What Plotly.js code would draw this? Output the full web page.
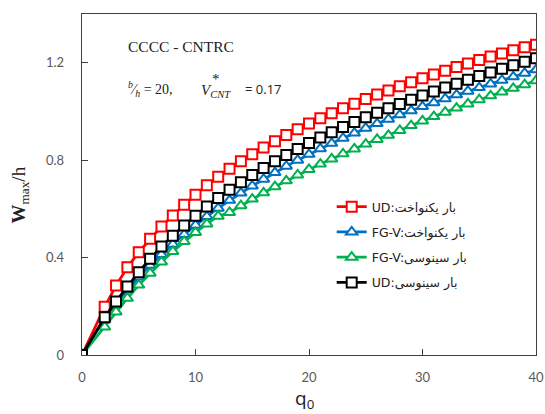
<!DOCTYPE html>
<html>
<head>
<meta charset="utf-8">
<script src="https://cdn.plot.ly/plotly-3.0.1.min.js"></script>
<style>html,body{margin:0;padding:0;background:#fff;}#chart{width:545px;height:414px;}</style>
</head>
<body>
<div id="chart"></div>
<script>
const q0 = [0,2,3,4,5,6,7,8,9,10,11,12,13,14,15,16,17,18,19,20,21,22,23,24,25,26,27,28,29,30,31,32,33,34,35,36,37,38,39,40];
const udUniform = [0,0.198,0.285,0.360,0.422,0.477,0.528,0.573,0.617,0.658,0.697,0.732,0.765,0.795,0.824,0.852,0.878,0.903,0.927,0.950,0.972,0.993,1.013,1.032,1.051,1.069,1.086,1.103,1.120,1.136,1.152,1.167,1.182,1.197,1.211,1.225,1.238,1.251,1.263,1.274];
const fgvUniform = [0,0.150,0.212,0.268,0.320,0.368,0.413,0.455,0.495,0.533,0.569,0.603,0.635,0.665,0.694,0.722,0.749,0.775,0.800,0.824,0.847,0.869,0.890,0.911,0.931,0.950,0.968,0.986,1.003,1.020,1.036,1.052,1.068,1.083,1.098,1.113,1.128,1.142,1.157,1.171];
const fgvSinus = [0,0.115,0.177,0.233,0.287,0.336,0.382,0.425,0.466,0.503,0.538,0.570,0.585,0.613,0.640,0.666,0.691,0.715,0.739,0.762,0.784,0.805,0.826,0.846,0.866,0.885,0.902,0.922,0.942,0.961,0.979,0.997,1.014,1.031,1.048,1.064,1.080,1.095,1.110,1.126];
const udSinus = [0,0.155,0.220,0.281,0.340,0.395,0.445,0.490,0.532,0.572,0.610,0.645,0.678,0.709,0.739,0.768,0.795,0.821,0.846,0.870,0.893,0.915,0.936,0.957,0.976,0.995,1.013,1.031,1.048,1.065,1.082,1.098,1.114,1.130,1.145,1.160,1.175,1.190,1.204,1.218];
const names = ["UD:بار یکنواخت", "FG-V:بار یکنواخت", "FG-V:بار سینوسی", "UD:بار سینوسی"];
const colors = ["#FF0000", "#0070C0", "#00B050", "#000000"];
const symbols = ["square", "triangle-up", "triangle-up", "square"];
const series = [udUniform, fgvUniform, fgvSinus, udSinus];

const traces = series.map((ys, i) => ({
  x: q0, y: ys, type: "scatter", mode: "lines+markers", name: names[i],
  legendgroup: "g" + i,
  line: {color: colors[i], width: 2.8},
  marker: {symbol: symbols[i], size: 10, color: "#FFFFFF", line: {color: colors[i], width: 2}}
}));

const tickFont = {family: "Lato, 'Open Sans', sans-serif", size: 13, color: "#595959"};
const layout = {
  width: 545, height: 414,
  margin: {l: 82, r: 9, t: 14, b: 59},
  paper_bgcolor: "#FFFFFF", plot_bgcolor: "#FFFFFF",
  showlegend: true,
  legend: {x: 0.55, y: 0.478, xanchor: "left", yanchor: "top", bgcolor: "rgba(0,0,0,0)",
    font: {family: "'DejaVu Sans', sans-serif", size: 12.5, color: "#222"}, traceorder: "grouped", tracegroupgap: 6},
  xaxis: {range: [0, 40], dtick: 10, tick0: 0, showgrid: false, zeroline: false,
    showline: true, linecolor: "#404040", linewidth: 1.3, mirror: true,
    ticks: "inside", ticklen: 6, tickcolor: "#404040", tickfont: tickFont, ticklabelstandoff: 10,
    fixedrange: true},
  yaxis: {range: [0, 1.4], tickvals: [0, 0.4, 0.8, 1.2], ticktext: ["0", "0.4", "0.8", "1.2"], showgrid: false, zeroline: false,
    showline: true, linecolor: "#404040", linewidth: 1.3, mirror: true,
    ticks: "inside", ticklen: 6, tickcolor: "#404040", tickfont: tickFont, ticklabelstandoff: 14,
    fixedrange: true},
  annotations: [
    {xref: "paper", yref: "paper", x: 0.096, y: 0.905, xanchor: "left", yanchor: "middle", showarrow: false,
     text: "CCCC - CNTRC", font: {family: "'Liberation Serif', serif", size: 15.5, color: "#222"}},
    {xref: "paper", yref: "paper", x: 0.096, y: 0.78, xanchor: "left", yanchor: "middle", showarrow: false,
     text: "<sup><i>b</i></sup>⁄<sub><i>h</i></sub> = 20,", font: {family: "'Liberation Serif', serif", size: 14, color: "#222"}},
    {xref: "paper", yref: "paper", x: 0.258, y: 0.775, xanchor: "left", yanchor: "middle", showarrow: false,
     text: "<i>V</i><sub><i>CNT</i></sub>", font: {family: "'Liberation Serif', serif", size: 15, color: "#222"}},
    {xref: "paper", yref: "paper", x: 0.296, y: 0.808, xanchor: "center", yanchor: "middle", showarrow: false,
     text: "*", font: {family: "'Liberation Serif', serif", size: 15, color: "#222"}},
    {xref: "paper", yref: "paper", x: 0.355, y: 0.78, xanchor: "left", yanchor: "middle", showarrow: false,
     text: "= 0.17", font: {family: "'Open Sans', sans-serif", size: 13, color: "#222"}},
    {xref: "paper", yref: "paper", x: -0.137, y: 0.47, xanchor: "center", yanchor: "middle", showarrow: false, textangle: -90,
     text: "<b>W</b><sub>max</sub>/h", font: {family: "'Liberation Serif', serif", size: 19, color: "#222"}},
    {xref: "paper", yref: "paper", x: 0.49, y: -0.082, xanchor: "center", yanchor: "top", showarrow: false,
     text: "q<sub>0</sub>", font: {family: "'Open Sans', sans-serif", size: 19, color: "#222"}}
  ]
};
Plotly.newPlot("chart", traces, layout, {displayModeBar: false, staticPlot: true});
</script>
</body>
</html>
